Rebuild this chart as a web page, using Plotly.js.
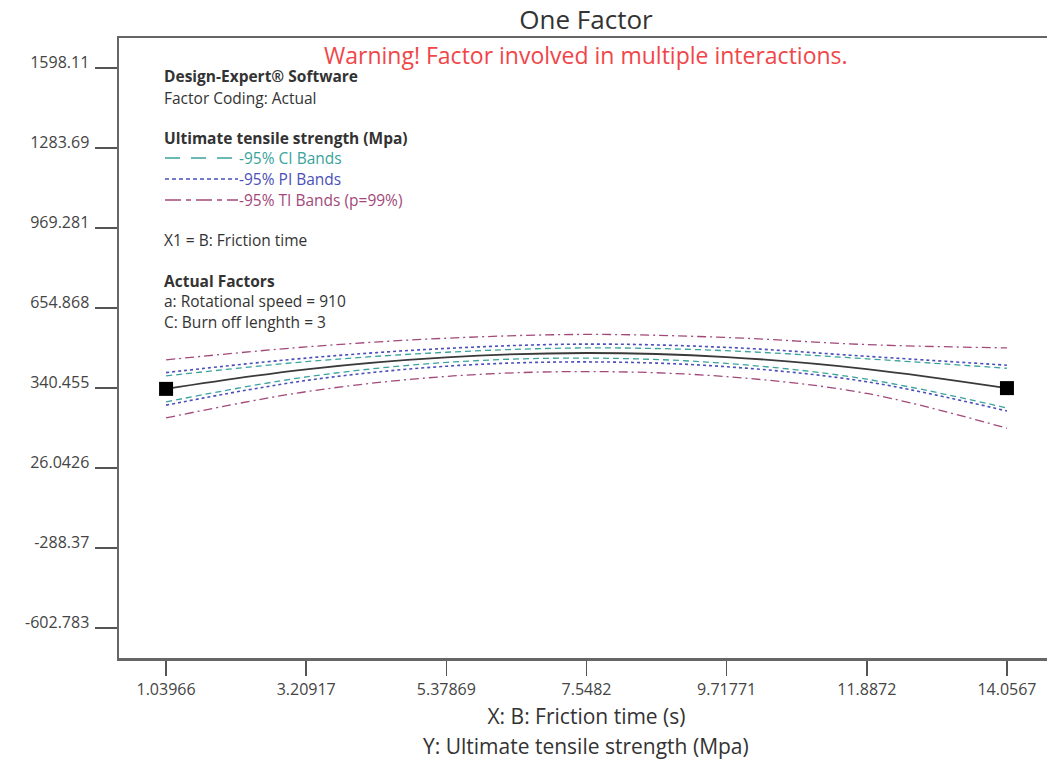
<!DOCTYPE html>
<html>
<head>
<meta charset="utf-8">
<script src="https://cdn.plot.ly/plotly-3.0.1.min.js"></script>
<style>
html,body{margin:0;padding:0;overflow:hidden;background:#fff;}
#chart{width:1055px;height:760px;}
</style>
</head>
<body>
<div id="chart"></div>
<script>
// Data
const frictionTime = [1.03966, 3.20917, 5.37869, 7.5482, 9.71771, 11.8872, 14.0567];
const fitValues    = [337, 414, 461, 478, 462, 415, 340];
const ciUpper      = [388, 444, 481, 498, 487, 455, 418];
const ciLower      = [286, 384, 441, 458, 437, 375, 262];
const piUpper      = [401, 458, 496, 513, 500, 465, 430];
const piLower      = [273, 370, 426, 443, 424, 365, 250];
const tiUpper      = [451, 502, 536, 551, 539, 511, 498];
const tiLower      = [223, 326, 386, 405, 385, 319, 182];

const yTickVals = [1598.11, 1283.69, 969.281, 654.868, 340.455, 26.0426, -288.37, -602.783];
const yTickText = ['1598.11', '1283.69', '969.281', '654.868', '340.455', '26.0426', '-288.37', '-602.783'];
const xTickVals = [1.03966, 3.20917, 5.37869, 7.5482, 9.71771, 11.8872, 14.0567];
const xTickText = ['1.03966', '3.20917', '5.37869', '7.5482', '9.71771', '11.8872', '14.0567'];

const FONT = 'Open Sans, Noto Sans, sans-serif';
const ciColor = '#3aa39c';
const piColor = '#4b4fb8';
const tiColor = '#a2497a';

function band(y, color, dash, width) {
  return {x: frictionTime, y: y, mode: 'lines', type: 'scatter',
    line: {color: color, dash: dash, width: width, shape: 'spline', smoothing: 1},
    hoverinfo: 'skip', showlegend: false};
}

const traces = [
  band(tiUpper, tiColor, '9px,4px,2px,4px', 1.3),
  band(tiLower, tiColor, '9px,4px,2px,4px', 1.3),
  band(piUpper, piColor, '3px,3px', 1.6),
  band(piLower, piColor, '3px,3px', 1.6),
  band(ciUpper, ciColor, '6px,4px', 1.3),
  band(ciLower, ciColor, '6px,4px', 1.3),
  {x: frictionTime, y: fitValues, mode: 'lines', type: 'scatter',
   line: {color: '#3a3a3a', width: 1.8, shape: 'spline', smoothing: 1}, showlegend: false},
  {x: [frictionTime[0], frictionTime[frictionTime.length - 1]],
   y: [fitValues[0], fitValues[fitValues.length - 1]],
   mode: 'markers', type: 'scatter',
   marker: {symbol: 'square', size: 14, color: '#000'}, showlegend: false}
];

// paper helpers (plot area: x 119..1054, y 38..658 in pixels)
const L = 119, R = 1054, T = 38, B = 658;
const px = v => (v - L) / (R - L);
const py = v => (B - v) / (B - T);

function note(text, x, y, opts) {
  opts = opts || {};
  return {text: text, xref: 'paper', yref: 'paper', x: px(x), y: py(y),
    xanchor: 'left', yanchor: 'middle', showarrow: false, borderpad: 0,
    font: {family: FONT, size: opts.size || 15.5, color: opts.color || '#333'}};
}

const annotations = [
  {text: 'Warning! Factor involved in multiple interactions.', xref: 'paper', yref: 'paper',
   x: px(586), y: py(55), xanchor: 'center', yanchor: 'middle', showarrow: false,
   font: {family: FONT, size: 23, color: '#f0464a'}},
  note('<b>Design-Expert® Software</b>', 163, 76),
  note('Factor Coding: Actual', 163, 98),
  note('<b>Ultimate tensile strength (Mpa)</b>', 163, 138),
  note('-95% CI Bands', 238, 158, {color: ciColor}),
  note('-95% PI Bands', 238, 179, {color: piColor}),
  note('-95% TI Bands (p=99%)', 238, 200, {color: tiColor}),
  note('X1 = B: Friction time', 163, 240),
  note('<b>Actual Factors</b>', 163, 281),
  note('a: Rotational speed = 910', 163, 301),
  note('C: Burn off lenghth = 3', 163, 322),
  {text: 'Y: Ultimate tensile strength (Mpa)', xref: 'paper', yref: 'paper',
   x: px(586), y: py(746), xanchor: 'center', yanchor: 'middle', showarrow: false, borderpad: 0,
   font: {family: FONT, size: 21, color: '#333'}}
];

const shapes = [
  {type: 'line', xref: 'paper', yref: 'paper', x0: px(165), x1: px(236), y0: py(158), y1: py(158),
   line: {color: ciColor, width: 1.3, dash: '15px,11px'}},
  {type: 'line', xref: 'paper', yref: 'paper', x0: px(165), x1: px(238), y0: py(179), y1: py(179),
   line: {color: piColor, width: 1.5, dash: '4px,3px'}},
  {type: 'line', xref: 'paper', yref: 'paper', x0: px(165), x1: px(238), y0: py(200), y1: py(200),
   line: {color: tiColor, width: 1.3, dash: '16px,5px,5px,5px'}}
];

const layout = {
  width: 1055, height: 760,
  margin: {l: L, r: 1055 - R, t: T, b: 760 - B, pad: 0},
  paper_bgcolor: '#fff', plot_bgcolor: '#fff',
  font: {family: FONT, color: '#444'},
  title: {text: 'One Factor', x: px(586), xref: 'paper', xanchor: 'center', y: 1 - 20 / 760, yanchor: 'middle',
          font: {family: FONT, size: 26, color: '#333'}},
  xaxis: {range: [0.311, 14.785], tickvals: xTickVals, ticktext: xTickText,
          ticks: 'outside', ticklen: 15, tickwidth: 1.5, tickcolor: '#555',
          showline: true, mirror: true, linecolor: '#666', linewidth: 2.5,
          showgrid: false, zeroline: false,
          tickfont: {family: FONT, size: 16, color: '#444'},
          title: {text: 'X: B: Friction time (s)', standoff: 11, font: {family: FONT, size: 21, color: '#333'}}},
  yaxis: {range: [-720.7, 1716], tickvals: yTickVals, ticktext: yTickText,
          ticks: 'outside', ticklen: 22, tickwidth: 1.5, tickcolor: '#555',
          ticklabelshift: -6, ticklabelstandoff: 2,
          showline: true, mirror: false, linecolor: '#666', linewidth: 2.5,
          showgrid: false, zeroline: false,
          tickfont: {family: FONT, size: 16, color: '#444'}},
  annotations: annotations,
  shapes: shapes,
  showlegend: false
};

Plotly.newPlot('chart', traces, layout, {displayModeBar: false, staticPlot: true});
</script>
</body>
</html>
